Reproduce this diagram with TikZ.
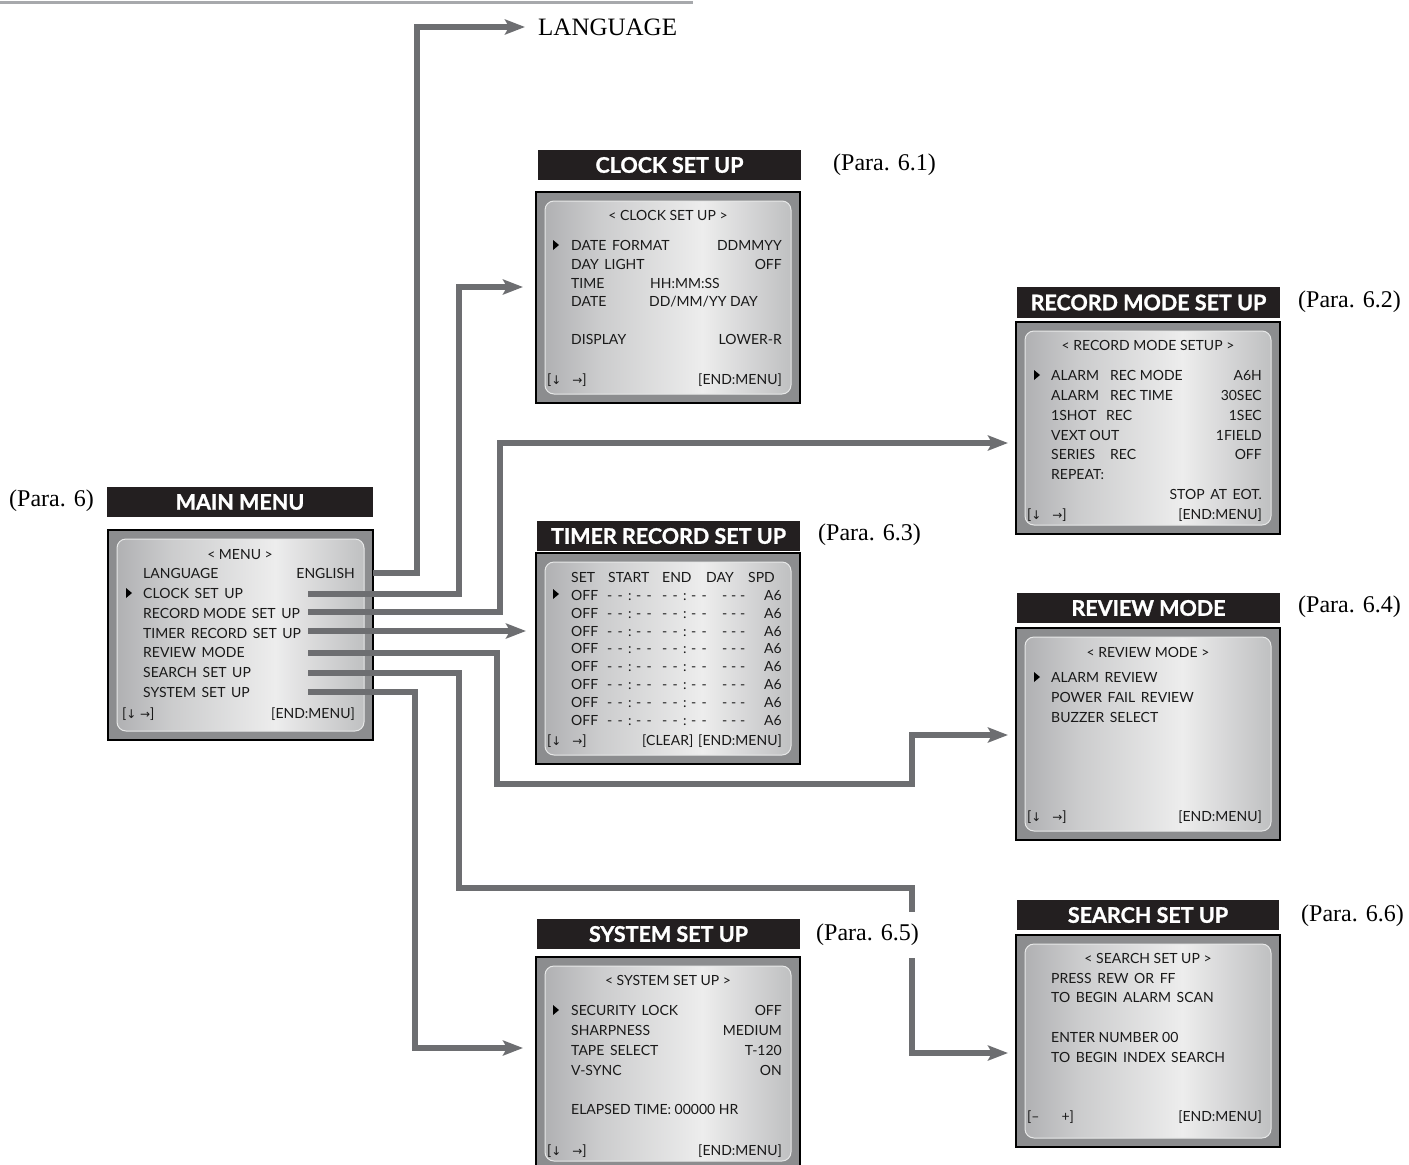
\documentclass[tikz,border=0pt]{standalone}
\usepackage{fontspec}
\setmainfont{Liberation Serif}
\newfontfamily\gs{Lato}[BoldFeatures={FakeBold=1.2}]
\newfontfamily\arrf{DejaVu Sans}
\usetikzlibrary{arrows.meta}
\definecolor{lnc}{HTML}{6D6E71}
\definecolor{frm}{HTML}{8C8D8F}
\definecolor{pd}{HTML}{B0B1B3}
\definecolor{pl}{HTML}{EDEDED}
\definecolor{ttlc}{HTML}{231F20}
\definecolor{rule}{HTML}{A7A9AC}
\pgfdeclarehorizontalshading{panel}{100bp}{color(0bp)=(pd); color(25bp)=(pd); color(36bp)=(pd!55!pl); color(57bp)=(pl); color(75bp)=(pd!75!pl); color(100bp)=(pd!75!pl)}
\newcommand\mf{\gs\fontsize{14}{16}\selectfont}
\newcommand\tf{\gs\bfseries\fontsize{21.5}{24}\selectfont}
\newcommand\pf{\fontsize{24}{28}\selectfont}
\newcommand\dn{{\arrf\fontsize{12}{14}\selectfont ↓}}
\newcommand\rt{{\arrf\fontsize{12}{14}\selectfont →}}
\newcommand\ws{\ \kern2pt}
\newcommand\pc[1]{\makebox[10.5pt][l]{#1}}
\newcommand\grp{\pc{-}\pc{-}\makebox[8pt][l]{:}\pc{-}-}
\newcommand\grq{\makebox[9pt][l]{-}\makebox[9pt][l]{-}-}
\newcommand\screen[5]{%
  \node[scr, minimum width=#4pt, minimum height=#5pt] (#1) at (#2,#3) {};
  \shade[shading=panel, rounded corners=9pt, draw=white!70!pd, line width=1pt]
    ([shift={(9,9)}]#1.north west) rectangle ([shift={(-9,-9)}]#1.south east);}
\newcommand\mk[2]{\fill[black] ({#1},{#2-5}) -- ({#1+6},{#2}) -- ({#1},{#2+5}) -- cycle;}
\tikzset{
  t/.style={font=\mf, inner sep=0pt, anchor=base west, text=black!90},
  tr/.style={t, anchor=base east},
  tc/.style={t, anchor=base},
  ttl/.style={fill=ttlc, text=white, font=\tf, inner sep=0pt, outer sep=0pt, anchor=north west},
  para/.style={font=\pf, inner sep=1pt, anchor=west},
  scr/.style={fill=frm, draw=black, line width=2.5pt, inner sep=0pt, outer sep=0pt, anchor=north west},
  conn/.style={draw=lnc, line width=6pt},
  arr/.style={conn, -{Stealth[length=20pt, width=15pt, inset=4pt]}}
}
\begin{document}
\begin{tikzpicture}[x=1pt,y=-1pt]
\clip (0,0) rectangle (1409,1165);
\fill[white] (0,0) rectangle (1409,1165);
% top rule
\draw[rule, line width=3pt] (0,2) -- (693,2);

% ---------- title bars ----------
\node[ttl, minimum width=266pt, minimum height=30pt] (tmain) at (107,487) {MAIN MENU};
\node[ttl, minimum width=263pt, minimum height=30pt] (tclock) at (538,150) {CLOCK SET UP};
\node[ttl, minimum width=263pt, minimum height=31pt] (trec) at (1017,287) {RECORD MODE SET UP};
\node[ttl, minimum width=263pt, minimum height=30pt] (ttimer) at (537,521) {TIMER RECORD SET UP};
\node[ttl, minimum width=263pt, minimum height=30pt] (trev) at (1017,593) {REVIEW MODE};
\node[ttl, minimum width=263pt, minimum height=30pt] (tsys) at (537,919) {SYSTEM SET UP};
\node[ttl, minimum width=262pt, minimum height=30pt] (tsrch) at (1017,900) {SEARCH SET UP};

% ---------- screens ----------
\screen{main}{108}{530}{265}{210}
\screen{clock}{536}{192}{264}{211}
\screen{rec}{1016}{322}{264}{212}
\screen{timer}{536}{553}{264}{211}
\screen{rev}{1016}{628}{264}{212}
\screen{sys}{536}{957}{264}{213}
\screen{srch}{1016}{935}{264}{212}

% ---------- main menu text ----------
\node[tc] (mh) at (240,559) {< MENU >};
\node[t] (m1) at (143,578) {LANGUAGE};
\node[tr] (m1v) at (355,578) {ENGLISH};
\mk{126}{593}
\node[t] (m2) at (143,598) {CLOCK\ws SET\ws UP};
\node[t] (m3) at (143,618) {RECORD MODE\ws SET\ws UP};
\node[t] (m4) at (143,638) {TIMER\ws RECORD\ws SET\ws UP};
\node[t] (m5) at (143,657) {REVIEW\ws MODE};
\node[t] (m6) at (143,677) {SEARCH\ws SET\ws UP};
\node[t] (m7) at (143,697) {SYSTEM\ws SET\ws UP};
\node[t] (mf1) at (122,718) {[\dn\ \rt]};
\node[tr] (mf2) at (355,718) {[END:MENU]};

% ---------- clock text ----------
\node[tc] (ch) at (668,220) {< CLOCK SET UP >};
\mk{553}{245}
\node[t] (c1) at (571,250) {DATE\ws FORMAT};
\node[tr] (c1v) at (782,250) {DDMMYY};
\node[t] (c2) at (571,269) {DAY\ws LIGHT};
\node[tr] (c2v) at (782,269) {OFF};
\node[t] (c3) at (571,288) {TIME};
\node[t] (c3v) at (650,288) {HH:MM:SS};
\node[t] (c4) at (571,306) {DATE};
\node[t] (c4v) at (649,306) {DD/MM/YY DAY};
\node[t] (c5) at (571,344) {DISPLAY};
\node[tr] (c5v) at (782,344) {LOWER-R};
\node[t] (cf1) at (547,384) {[\dn\ \ \ \rt]};
\node[tr] (cf2) at (782,384) {[END:MENU]};

% ---------- record mode text ----------
\node[tc] (rh) at (1148,350) {< RECORD MODE SETUP >};
\mk{1034}{375}
\node[t] (r1) at (1051,380) {ALARM};
\node[t] (r1b) at (1110,380) {REC MODE};
\node[tr] (r1v) at (1262,380) {A6H};
\node[t] (r2) at (1051,400) {ALARM};
\node[t] (r2b) at (1110,400) {REC TIME};
\node[tr] (r2v) at (1262,400) {30SEC};
\node[t] (r3) at (1051,420) {1SHOT};
\node[t] (r3b) at (1106,420) {REC};
\node[tr] (r3v) at (1262,420) {1SEC};
\node[t] (r4) at (1051,440) {VEXT OUT};
\node[tr] (r4v) at (1262,440) {1FIELD};
\node[t] (r5) at (1051,459) {SERIES};
\node[t] (r5b) at (1110,459) {REC};
\node[tr] (r5v) at (1262,459) {OFF};
\node[t] (r6) at (1051,479) {REPEAT:};
\node[tr] (r7) at (1262,499) {STOP\ws AT\ws EOT.};
\node[t] (rf1) at (1027,519) {[\dn\ \ \ \rt]};
\node[tr] (rf2) at (1262,519) {[END:MENU]};

% ---------- timer text ----------
\node[t] (th1) at (571,582) {SET};
\node[t] (th2) at (608,582) {START};
\node[t] (th3) at (662,582) {END};
\node[t] (th4) at (706,582) {DAY};
\node[t] (th5) at (748,582) {SPD};
\mk{553}{594}
\foreach \yy [count=\k] in {595,613,631,648.5,666,684,702,720} {
  \node[t] (toff\k) at (571,{\yy+5}) {OFF};
  \node[t] (tst\k) at (607,{\yy+5}) {\grp};
  \node[t] (ten\k) at (662,{\yy+5}) {\grp};
  \node[t] (tdy\k) at (722,{\yy+5}) {\grq};
  \node[tr] (tsp\k) at (782,{\yy+5}) {A6};
}
\node[t] (tf1) at (547,745) {[\dn\ \ \ \rt]};
\node[t] (tf2) at (642,745) {[CLEAR]};
\node[tr] (tf3) at (782,745) {[END:MENU]};

% ---------- review text ----------
\node[tc] (vh) at (1148,657) {< REVIEW MODE >};
\mk{1034}{677}
\node[t] (v1) at (1051,682) {ALARM\ws REVIEW};
\node[t] (v2) at (1051,702) {POWER\ws FAIL\ws REVIEW};
\node[t] (v3) at (1051,722) {BUZZER\ws SELECT};
\node[t] (vf1) at (1027,821) {[\dn\ \ \ \rt]};
\node[tr] (vf2) at (1262,821) {[END:MENU]};

% ---------- system text ----------
\node[tc] (sh) at (668,985) {< SYSTEM SET UP >};
\mk{553}{1010}
\node[t] (s1) at (571,1015) {SECURITY\ws LOCK};
\node[tr] (s1v) at (782,1015) {OFF};
\node[t] (s2) at (571,1035) {SHARPNESS};
\node[tr] (s2v) at (782,1035) {MEDIUM};
\node[t] (s3) at (571,1055) {TAPE\ws SELECT};
\node[tr] (s3v) at (782,1055) {T-120};
\node[t] (s4) at (571,1075) {V-SYNC};
\node[tr] (s4v) at (782,1075) {ON};
\node[t] (s5) at (571,1114) {ELAPSED TIME: 00000 HR};
\node[t] (sf1) at (547,1155) {[\dn\ \ \ \rt]};
\node[tr] (sf2) at (782,1155) {[END:MENU]};

% ---------- search text ----------
\node[tc] (qh) at (1148,963) {< SEARCH SET UP >};
\node[t] (q1) at (1051,983) {PRESS\ws REW\ws OR\ws FF};
\node[t] (q2) at (1051,1002) {TO\ws BEGIN\ws ALARM\ws SCAN};
\node[t] (q3) at (1051,1042) {ENTER NUMBER 00};
\node[t] (q4) at (1051,1062) {TO\ws BEGIN\ws INDEX\ws SEARCH};
\node[t] (qf1) at (1027,1121) {[–\hspace{22pt}+]};
\node[tr] (qf2) at (1262,1121) {[END:MENU]};

% ---------- LANGUAGE target ----------
\node[font=\fontsize{25}{28}\selectfont, inner sep=0pt, anchor=west] (lang) at (538,27) {LANGUAGE};

% ---------- connector endpoints ----------
\coordinate (a1) at (main.east |- 0,573);
\coordinate (a2) at (308,594);
\coordinate (a3) at (308,612);
\coordinate (a4) at (308,631);
\coordinate (a5) at (308,653);
\coordinate (a6) at (308,673);
\coordinate (a7) at (308,692);
\coordinate (b1) at ([xshift=-13pt]lang.west);
\coordinate (b2) at (523,287);
\coordinate (b3) at (1008,443);
\coordinate (b4) at (526,631);
\coordinate (b5) at (1008,735);
\coordinate (b6) at (1008,1053);
\coordinate (b7) at (523,1048);

% ---------- connectors ----------
\draw[arr] (a1) -- (417,573) |- (b1);
\draw[arr] (a2) -- (459,594) |- (b2);
\draw[arr] (a3) -- (500,612) |- (b3);
\draw[arr] (a4) -- (b4);
\draw[arr] (a5) -- (497,653) -- (497,784) -- (912,784) |- (b5);
\draw[arr] (a6) -- (459,673) -- (459,888) -- (912,888) |- (b6);
\draw[arr] (a7) -- (415,692) |- (b7);

% ---------- paragraph labels ----------
\node[para] (p0) at (8,501) {(Para. 6)};
\node[para] (p1) at (832,165) {(Para. 6.1)};
\node[para] (p2) at (1297,302) {(Para. 6.2)};
\node[para] (p3) at (817,535) {(Para. 6.3)};
\node[para] (p4) at (1297,607) {(Para. 6.4)};
\node[para, fill=white, inner ysep=12pt] (p5) at (815,935) {(Para. 6.5)};
\node[para] (p6) at (1300,916) {(Para. 6.6)};
\end{tikzpicture}
\end{document}
